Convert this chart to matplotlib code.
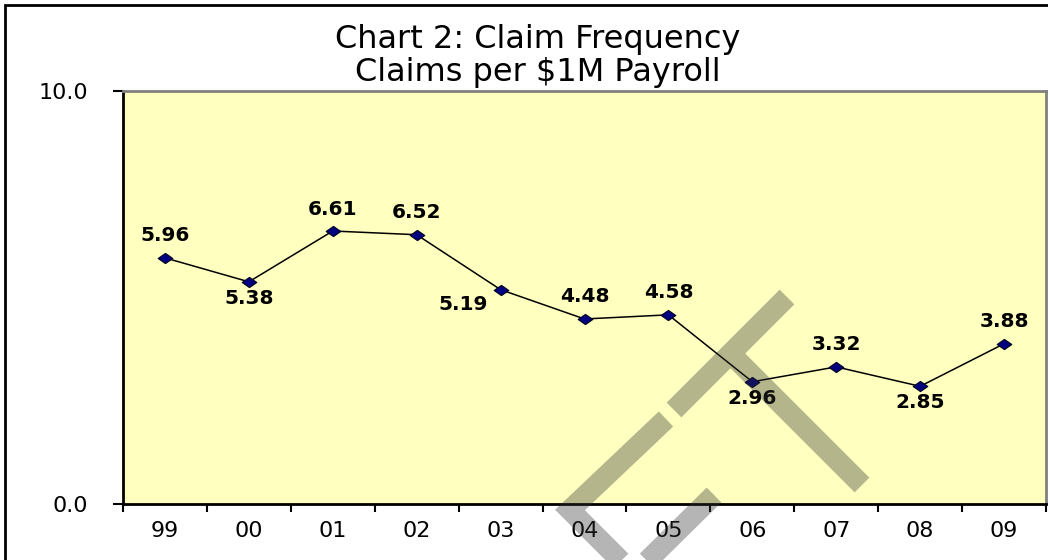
import numpy as np
import matplotlib.pyplot as plt
from matplotlib.patches import Rectangle
from matplotlib.lines import Line2D
from matplotlib.path import Path

plt.rcParams['font.family'] = ['DejaVu Sans']

# data
years = ['99', '00', '01', '02', '03', '04', '05', '06', '07', '08', '09']
frecuencia = [5.96, 5.38, 6.61, 6.52, 5.19, 4.48, 4.58, 2.96, 3.32, 2.85, 3.88]
# posicion de cada etiqueta: 'a' arriba, 'b' abajo, 'i' abajo a la izquierda
posiciones = ['a', 'b', 'a', 'a', 'i', 'a', 'a', 'b', 'a', 'b', 'a']

W, H = 1048, 560
fig = plt.figure(figsize=(W / 100, H / 100), dpi=100)

# area del grafico en pixeles
x0, x1, y0, y1 = 123, 1046, 91, 504
ax = fig.add_axes([x0 / W, 1 - y1 / H, (x1 - x0) / W, (y1 - y0) / H])
ax.set_facecolor('#FFFFC0')

# rombo mas ancho que alto
rombo = Path([(0, 0.7), (1, 0), (0, -0.7), (-1, 0), (0, 0.7)],
             [Path.MOVETO, Path.LINETO, Path.LINETO, Path.LINETO, Path.CLOSEPOLY])

x = np.arange(len(years))
ax.plot(x, frecuencia, color='k', linewidth=1.1, marker=rombo, markersize=10.5,
        markerfacecolor='#000080', markeredgecolor='#000020', markeredgewidth=0.8, zorder=3)

for xi, v, p in zip(x, frecuencia, posiciones):
    if p == 'a':
        ax.annotate('%.2f' % v, (xi, v), xytext=(0, 9), textcoords='offset points',
                    ha='center', va='bottom', fontsize=14.5, fontweight='bold', zorder=4)
    elif p == 'b':
        ax.annotate('%.2f' % v, (xi, v), xytext=(0, -5), textcoords='offset points',
                    ha='center', va='top', fontsize=14.5, fontweight='bold', zorder=4)
    else:
        ax.annotate('%.2f' % v, (xi, v), xytext=(-27, -4), textcoords='offset points',
                    ha='center', va='top', fontsize=14.5, fontweight='bold', zorder=4)

ax.set_xlim(-0.5, len(years) - 0.5)
ax.set_ylim(0, 10)
ax.set_yticks([0, 10])
ax.set_yticklabels(['0.0', '10.0'], fontsize=16)
ax.set_xticks(x)
ax.set_xticklabels(years, fontsize=16)
ax.set_xticks(np.arange(-0.5, len(years)), minor=True)
ax.tick_params(axis='x', which='major', length=0, pad=12)
ax.tick_params(axis='x', which='minor', length=6, width=1.5, direction='out')
ax.tick_params(axis='y', length=7, width=1.5, direction='out', pad=18)

ax.spines['left'].set_linewidth(2)
ax.spines['bottom'].set_linewidth(2)
ax.spines['top'].set_color('#808080')
ax.spines['right'].set_color('#808080')
ax.spines['top'].set_linewidth(2)
ax.spines['right'].set_linewidth(2)

fig.text(538 / W, 1 - 56 / H, 'Chart 2: Claim Frequency\nClaims per $1M Payroll',
         ha='center', va='center', fontsize=23, linespacing=1.08)

# marco exterior
fig.patches.append(Rectangle((5 / W, -0.1), 1.2, 1 - 5 / H + 0.1, transform=fig.transFigure,
                             fill=False, edgecolor='k', linewidth=2))

# marca de agua gris (un solo trazo para que no se oscurezca al cruzarse)
trazos = [
    [(787, 297), (674, 410)],
    [(666, 419), (570, 510), (634, 574), (714, 495)],
    [(730, 353), (862, 485)],
]
xs, ys = [], []
for t in trazos:
    xs += [p[0] / W for p in t] + [np.nan]
    ys += [1 - p[1] / H for p in t] + [np.nan]
fig.lines.append(Line2D(xs, ys, transform=fig.transFigure, color='#323232', alpha=0.36,
                        linewidth=15, solid_capstyle='butt', solid_joinstyle='miter', zorder=10))

plt.savefig('out.png', dpi=100)
